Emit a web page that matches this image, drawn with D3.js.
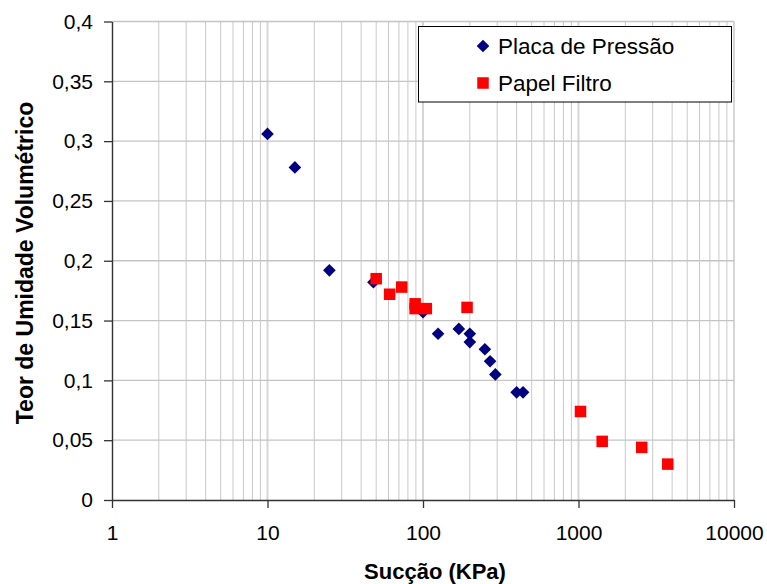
<!DOCTYPE html>
<html>
<head>
<meta charset="utf-8">
<script src="https://cdn.jsdelivr.net/npm/d3@7"></script>
<style>
  html, body { margin: 0; padding: 0; background: #fff; }
  svg { display: block; }
  text { font-family: "Liberation Sans", Arial, sans-serif; }
</style>
</head>
<body>
<svg id="chart" width="767" height="584"></svg>
<script>
// ---- data ----
const placaX = [10, 15, 25, 48, 100, 125, 170, 200, 200, 250, 270, 292, 400, 440];
const placaY = [0.306, 0.278, 0.192, 0.182, 0.157, 0.139, 0.143, 0.139, 0.132, 0.126, 0.116, 0.105, 0.090, 0.090];
const papelX = [50, 61, 73, 89, 89, 105, 192, 1030, 1420, 2550, 3750];
const papelY = [0.185, 0.172, 0.178, 0.164, 0.160, 0.160, 0.161, 0.074, 0.049, 0.044, 0.030];
const seriesNames = ["Placa de Pressão", "Papel Filtro"];
const xTickValues = [1, 10, 100, 1000, 10000];
const xTickLabels = ["1", "10", "100", "1000", "10000"];
const yTickValues = [0, 0.05, 0.1, 0.15, 0.2, 0.25, 0.3, 0.35, 0.4];
const yTickLabels = ["0", "0,05", "0,1", "0,15", "0,2", "0,25", "0,3", "0,35", "0,4"];
const xTitle = "Sucção (KPa)";
const yTitle = "Teor de Umidade Volumétrico";

// ---- layout ----
const svg = d3.select("#chart");
const L = 112, R = 734, T = 21.5, B = 500;
const x = d3.scaleLog().domain([1, 10000]).range([L, R]);
const y = d3.scaleLinear().domain([0, 0.4]).range([B, T]);

// minor gridlines
const minor = [];
for (let d = 1; d < 10000; d *= 10) for (let k = 2; k <= 9; k++) minor.push(d * k);
svg.append("g").selectAll("line").data(minor).join("line")
  .attr("x1", d => x(d)).attr("x2", d => x(d)).attr("y1", T).attr("y2", B)
  .attr("stroke", "#c8c8c8").attr("stroke-width", 1);
// major vertical gridlines
svg.append("g").selectAll("line").data(xTickValues.slice(1)).join("line")
  .attr("x1", d => x(d)).attr("x2", d => x(d)).attr("y1", T).attr("y2", B)
  .attr("stroke", "#d6d6d6").attr("stroke-width", 2);
// horizontal gridlines
svg.append("g").selectAll("line").data(yTickValues.slice(1)).join("line")
  .attr("x1", L).attr("x2", R).attr("y1", d => y(d)).attr("y2", d => y(d))
  .attr("stroke", "#c4c4c4").attr("stroke-width", 1.3);

// axes
const xAxis = d3.axisBottom(x).tickValues(xTickValues)
  .tickFormat((d, i) => xTickLabels[i]).tickSize(8).tickPadding(17.5).tickSizeOuter(0);
const gx = svg.append("g").attr("transform", `translate(0,${B})`).call(xAxis);
const yAxis = d3.axisLeft(y).tickValues(yTickValues)
  .tickFormat((d, i) => yTickLabels[i]).tickSize(8).tickPadding(11).tickSizeOuter(0);
const gy = svg.append("g").attr("transform", `translate(${L},0)`).call(yAxis);
[gx, gy].forEach(g => {
  g.select(".domain").attr("stroke", "#333").attr("stroke-width", 1.4);
  g.selectAll(".tick line").attr("stroke", "#333").attr("stroke-width", 1.3);
  g.selectAll("text").attr("font-size", 21).attr("fill", "#000")
    .attr("font-family", "'Liberation Sans', Arial, sans-serif");
});

// markers
const diamond = d3.symbol().type(d3.symbolSquare).size(80);
svg.append("g").selectAll("path").data(placaX.map((v, i) => [v, placaY[i]])).join("path")
  .attr("d", diamond)
  .attr("transform", d => `translate(${x(d[0])},${y(d[1])}) rotate(45)`)
  .attr("fill", "#000080");
const sq = 11.5;
svg.append("g").selectAll("rect").data(papelX.map((v, i) => [v, papelY[i]])).join("rect")
  .attr("x", d => x(d[0]) - sq / 2).attr("y", d => y(d[1]) - sq / 2)
  .attr("width", sq).attr("height", sq).attr("fill", "#ff0000");

// legend
const lg = svg.append("g");
lg.append("rect").attr("x", 418.5).attr("y", 26.5).attr("width", 313).attr("height", 75.5)
  .attr("fill", "#fff").attr("stroke", "#000").attr("stroke-width", 1);
lg.append("path").attr("d", diamond).attr("transform", "translate(483,46) rotate(45)").attr("fill", "#000080");
lg.append("rect").attr("x", 483 - sq / 2).attr("y", 83 - sq / 2).attr("width", sq).attr("height", sq).attr("fill", "#ff0000");
lg.append("text").attr("x", 498).attr("y", 53.5).attr("font-size", 22.5).text(seriesNames[0]);
lg.append("text").attr("x", 498).attr("y", 91).attr("font-size", 22.5).text(seriesNames[1]);

// titles
svg.append("text").attr("x", 435).attr("y", 579).attr("text-anchor", "middle")
  .attr("font-size", 22).attr("font-weight", "bold").text(xTitle);
svg.append("text").attr("transform", "translate(33,263) rotate(-90)").attr("text-anchor", "middle")
  .attr("font-size", 23).attr("font-weight", "bold").text(yTitle);
</script>
</body>
</html>
